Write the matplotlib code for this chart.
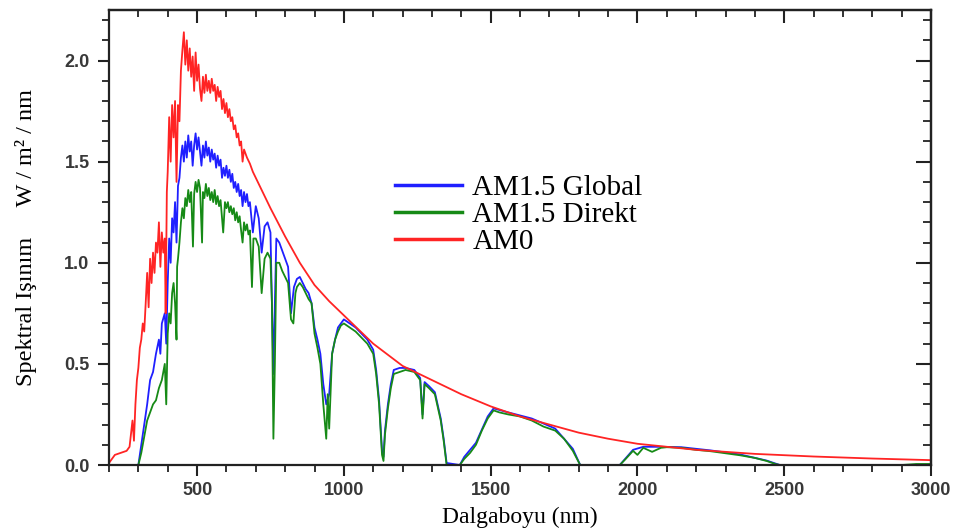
import matplotlib
matplotlib.use("Agg")
import matplotlib.pyplot as plt
from matplotlib.ticker import MultipleLocator

# AM0 (extraterrestrial) spectrum
am0_wl = [200, 220, 240, 260, 270, 280, 285, 290, 295, 300, 305, 310, 315, 320, 325,
          330, 335, 340, 345, 350, 355, 360, 365, 370, 375, 380, 385, 390, 393, 397,
          400, 405, 410, 415, 420, 425, 430, 435, 440, 445, 450, 455, 460, 465, 470,
          475, 480, 485, 490, 495, 500, 505, 510, 515, 520, 525, 530, 535, 540, 545,
          550, 555, 560, 565, 570, 575, 580, 585, 590, 595, 600, 605, 610, 615, 620,
          625, 630, 635, 640, 645, 650, 655, 660, 670, 680, 690, 700, 750, 800, 850,
          900, 950, 1000, 1100, 1200, 1300, 1400, 1500, 1600, 1700, 1800, 1900, 2000,
          2200, 2400, 2600, 2800, 3000]
am0_val = [0.01, 0.05, 0.06, 0.07, 0.09, 0.22, 0.12, 0.30, 0.42, 0.48, 0.58, 0.62, 0.70, 0.66, 0.80,
           0.95, 0.78, 1.02, 0.90, 1.05, 0.95, 1.10, 1.05, 1.20, 0.98, 1.15, 1.05, 1.12, 0.75, 1.35,
           1.45, 1.72, 1.50, 1.78, 1.62, 1.80, 1.40, 1.78, 1.70, 1.95, 2.05, 2.14, 1.98, 2.10, 1.95,
           2.06, 1.92, 2.02, 1.85, 2.04, 1.90, 1.98, 1.86, 1.80, 1.92, 1.84, 1.93, 1.85, 1.90, 1.84,
           1.91, 1.85, 1.88, 1.80, 1.87, 1.82, 1.85, 1.76, 1.81, 1.74, 1.79, 1.72, 1.76, 1.70, 1.72,
           1.66, 1.68, 1.62, 1.64, 1.58, 1.60, 1.50, 1.56, 1.52, 1.49, 1.45, 1.42, 1.27, 1.13, 1.00,
           0.89, 0.81, 0.74, 0.60, 0.49, 0.42, 0.35, 0.29, 0.24, 0.20, 0.16, 0.13, 0.105,
           0.075, 0.055, 0.042, 0.032, 0.024]

# AM1.5 global
glob_wl = [295, 300, 310, 320, 330, 340, 350, 360, 370, 375, 380, 390, 395, 400, 405,
           410, 415, 420, 425, 430, 435, 440, 445, 450, 455, 460, 465, 470, 475, 480,
           485, 490, 495, 500, 505, 510, 515, 520, 525, 530, 535, 540, 545, 550, 555,
           560, 565, 570, 575, 580, 585, 590, 595, 600, 605, 610, 615, 620, 625, 630,
           635, 640, 645, 650, 655, 660, 665, 670, 675, 680, 690, 700, 710, 720, 730,
           740, 750, 760, 765, 770, 780, 790, 800, 810, 820, 830, 840, 850, 860, 870,
           880, 890, 900, 910, 920, 930, 940, 950, 960, 970, 980, 990, 1000, 1020, 1040,
           1060, 1080, 1100, 1110, 1120, 1130, 1135, 1140, 1150, 1160, 1170, 1190, 1210,
           1240, 1260, 1268, 1275, 1290, 1310, 1330, 1340, 1350, 1395, 1410, 1450, 1490,
           1510, 1560, 1640, 1720, 1780, 1805, 1940, 1985, 2020, 2080, 2150, 2250, 2350,
           2440, 2485, 3000]
glob_val = [0.0, 0.0, 0.10, 0.20, 0.30, 0.42, 0.46, 0.55, 0.62, 0.55, 0.70, 0.75, 0.60, 0.90, 1.12,
            1.00, 1.22, 1.15, 1.30, 1.10, 1.38, 1.42, 1.52, 1.58, 1.50, 1.60, 1.52, 1.63, 1.55, 1.60,
            1.48, 1.58, 1.64, 1.56, 1.62, 1.55, 1.48, 1.58, 1.52, 1.60, 1.53, 1.57, 1.50, 1.56, 1.51,
            1.54, 1.47, 1.53, 1.48, 1.51, 1.42, 1.47, 1.43, 1.48, 1.42, 1.46, 1.40, 1.44, 1.37, 1.40,
            1.35, 1.39, 1.33, 1.36, 1.28, 1.35, 1.30, 1.34, 1.28, 1.30, 1.15, 1.28, 1.22, 1.05, 1.18,
            1.20, 1.15, 0.45, 0.80, 1.12, 1.10, 1.06, 1.02, 0.98, 0.75, 0.88, 0.92, 0.93, 0.90, 0.87,
            0.85, 0.80, 0.68, 0.62, 0.55, 0.40, 0.30, 0.35, 0.55, 0.62, 0.68, 0.70, 0.72, 0.70, 0.68,
            0.65, 0.62, 0.57, 0.47, 0.32, 0.07, 0.04, 0.17, 0.30, 0.40, 0.47, 0.48, 0.48,
            0.47, 0.43, 0.25, 0.41, 0.39, 0.36, 0.23, 0.13, 0.01, 0.0, 0.04, 0.11, 0.24,
            0.28, 0.26, 0.23, 0.18, 0.08, 0.0, 0.0, 0.075, 0.09, 0.09, 0.088, 0.072, 0.052,
            0.022, 0.0, 0.0]

# AM1.5 direct
dir_wl = [295, 300, 310, 320, 330, 340, 350, 360, 370, 380, 390, 395, 400, 405, 410,
          415, 420, 425, 430, 432, 435, 440, 445, 450, 455, 460, 465, 470, 475, 480,
          486, 490, 495, 500, 505, 510, 517, 520, 525, 530, 535, 540, 545, 550, 555,
          560, 565, 570, 575, 580, 589, 595, 600, 605, 610, 615, 620, 625, 630, 635,
          640, 645, 650, 655, 660, 665, 670, 675, 680, 687, 692, 700, 710, 720, 730,
          740, 750, 755, 760, 765, 770, 780, 790, 800, 810, 820, 828, 835, 840, 850,
          860, 870, 880, 890, 900, 910, 920, 930, 940, 945, 950, 960, 970, 980, 990,
          1000, 1020, 1040, 1060, 1080, 1100, 1110, 1120, 1130, 1135, 1140, 1150, 1160,
          1170, 1190, 1210, 1240, 1260, 1268, 1275, 1290, 1310, 1330, 1340, 1350, 1395,
          1410, 1430, 1450, 1470, 1490, 1510, 1530, 1560, 1600, 1640, 1680, 1720, 1750,
          1780, 1805, 1940, 1960, 1985, 2000, 2020, 2050, 2080, 2100, 2150, 2200, 2250,
          2300, 2350, 2400, 2440, 2470, 2485, 2900, 2950, 3000]
dir_val = [0.0, 0.0, 0.06, 0.14, 0.22, 0.26, 0.30, 0.32, 0.38, 0.42, 0.50, 0.30, 0.65, 0.75, 0.70,
           0.85, 0.90, 0.80, 0.62, 0.98, 1.02, 1.10, 1.20, 1.27, 1.22, 1.32, 1.28, 1.36, 1.30, 1.35,
           1.08, 1.34, 1.40, 1.35, 1.41, 1.37, 1.10, 1.35, 1.32, 1.39, 1.33, 1.37, 1.31, 1.35, 1.30,
           1.36, 1.29, 1.33, 1.28, 1.31, 1.15, 1.30, 1.27, 1.30, 1.25, 1.28, 1.24, 1.27, 1.21, 1.25,
           1.20, 1.23, 1.16, 1.10, 1.20, 1.16, 1.19, 1.14, 1.16, 0.88, 1.12, 1.12, 1.08, 0.85, 1.02,
           1.05, 1.02, 0.80, 0.13, 0.50, 1.00, 1.00, 0.96, 0.93, 0.90, 0.72, 0.70, 0.85, 0.88, 0.90,
           0.88, 0.85, 0.82, 0.80, 0.65, 0.58, 0.50, 0.30, 0.13, 0.35, 0.18, 0.55, 0.62, 0.66, 0.69,
           0.70, 0.68, 0.66, 0.63, 0.60, 0.55, 0.45, 0.30, 0.05, 0.02, 0.15, 0.28, 0.38,
           0.45, 0.46, 0.47, 0.46, 0.42, 0.23, 0.40, 0.38, 0.35, 0.22, 0.12, 0.0, 0.0,
           0.03, 0.06, 0.10, 0.17, 0.23, 0.27, 0.26, 0.25, 0.24, 0.22, 0.19, 0.17, 0.13,
           0.07, 0.0, 0.0, 0.03, 0.07, 0.05, 0.085, 0.065, 0.085, 0.088, 0.085, 0.075, 0.068,
           0.058, 0.048, 0.035, 0.02, 0.005, 0.0, 0.0, 0.005, 0.005]

series = [
    ("AM1.5 Global", glob_wl, glob_val, "#1f1fff"),
    ("AM1.5 Direkt", dir_wl, dir_val, "#168a16"),
    ("AM0", am0_wl, am0_val, "#ff2424"),
]

W, H = 963, 531
fig = plt.figure(figsize=(W / 100, H / 100), dpi=100)
ax = fig.add_axes([109 / W, (H - 465) / H, (931 - 109) / W, (465 - 10) / H])

for name, wl, val, color in series:
    ax.plot(wl, val, color=color, lw=1.3, label=name)

ax.set_xlim(200, 3000)
ax.set_ylim(0, 2.25)

tick_font = dict(family="Liberation Sans", weight="bold", size=13, color="#383838")
ax.xaxis.set_minor_locator(MultipleLocator(100))
ax.yaxis.set_minor_locator(MultipleLocator(0.1))
ax.set_xticks([500, 1000, 1500, 2000, 2500, 3000])
ax.set_xticklabels(["500", "1000", "1500", "2000", "2500", "3000"], fontdict=tick_font)
ax.set_yticks([0, 0.5, 1.0, 1.5, 2.0])
ax.set_yticklabels(["0.0", "0.5", "1.0", "1.5", "2.0"], fontdict=tick_font)
ax.tick_params(which="major", direction="out", length=8, width=1.5, color="#222", pad=4)
ax.tick_params(which="minor", direction="out", length=5, width=1.3, color="#222")
ax.tick_params(axis="y", which="major", pad=6)

# top and right axes carry inward ticks without labels
top = ax.secondary_xaxis("top")
top.xaxis.set_major_locator(MultipleLocator(500))
top.xaxis.set_minor_locator(MultipleLocator(100))
top.tick_params(which="major", direction="in", length=9, width=1.5, color="#222", labeltop=False)
top.tick_params(which="minor", direction="in", length=5, width=1.3, color="#222")
right = ax.secondary_yaxis("right")
right.yaxis.set_major_locator(MultipleLocator(0.5))
right.yaxis.set_minor_locator(MultipleLocator(0.1))
right.tick_params(which="major", direction="in", length=11, width=1.5, color="#222", labelright=False)
right.tick_params(which="minor", direction="in", length=6, width=1.3, color="#222")

for sp in list(ax.spines.values()) + [top.spines["top"], right.spines["right"]]:
    sp.set_linewidth(1.6)
    sp.set_color("#222")

ax.set_xlabel("Dalgaboyu (nm)", family="Liberation Serif", size=17, labelpad=6)
ax.set_ylabel("Spektral Işınım     W / m² / nm", family="Liberation Serif", size=17.5)
ax.yaxis.set_label_coords(-0.088, 0.5)

leg = ax.legend(loc="upper left", bbox_to_anchor=(0.348, 0.638), frameon=False,
                prop=dict(family="Liberation Serif", size=21), handlelength=2.3,
                handletextpad=0.35, labelspacing=0.02, borderaxespad=0, borderpad=0)
for line in leg.get_lines():
    line.set_linewidth(2.5)

fig.savefig("out.png", dpi=100)
